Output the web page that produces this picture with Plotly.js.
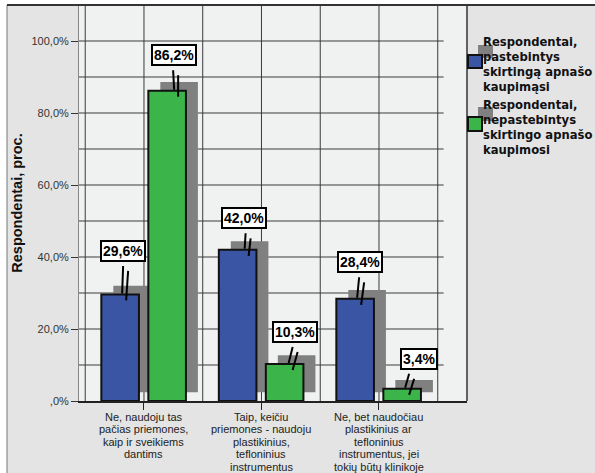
<!DOCTYPE html>
<html>
<head>
<meta charset="utf-8">
<script src="https://cdn.plot.ly/plotly-3.0.1.min.js"></script>
<style>html,body{margin:0;padding:0;background:#fff;}</style>
</head>
<body>
<div id="chart" style="width:595px;height:473px;"></div>
<script>
// ---- data ----
const categories = [
  "Ne, naudoju tas<br>pačias priemones,<br>kaip ir sveikiems<br>dantims",
  "Taip, keičiu<br>priemones - naudoju<br>plastikinius,<br>tefloninius<br>instrumentus",
  "Ne, bet naudočiau<br>plastikinius ar<br>tefloninius<br>instrumentus, jei<br>tokių būtų klinikoje"
];
const seriesNames = [
  "Respondentai,<br>pastebintys<br>skirtingą apnašo<br>kaupimąsi",
  "Respondentai,<br>nepastebintys<br>skirtingo apnašo<br>kaupimosi"
];
const noticedValues = [29.6, 42.0, 28.4];
const notNoticedValues = [86.2, 10.3, 3.4];
const yTickValues = [0, 20, 40, 60, 80, 100];
const yTickLabels = [",0%", "20,0%", "40,0%", "60,0%", "80,0%", "100,0%"];
const yAxisTitle = "Respondentai, proc.";

// ---- styling / layout constants ----
const colors = ["#3B55A5", "#3BB54A"];
const shadowColor = "#808080";
const barWidth = 0.32;
const barOffsets = [-0.363, 0.037];
const shadowDx = 0.102, shadowBase = 2.4;
const xRange = [-0.553, 2.749];
const yRange = [0, 110];
// label box offsets [dx, dy] in px relative to bar centre/top; leader top/bottom x
const labelPos = [
  [[2.5, 43.5, 3, 2], [6.5, 31.5, 8, 7], [5, 36.5, 4, 2]],
  [[7, 35.5, 6, 7], [10, 32, 8, 4], [16.5, 30, 7, 3]]
];
const ML = 79, MT = 5, PW = 388, PH = 396;
const BOTTOM = MT + PH; // 401

const idx = categories.map((_, i) => i);
const series = [noticedValues, notNoticedValues];

const traces = [];
series.forEach((vals, s) => {
  traces.push({
    type: "bar", x: idx, y: vals, base: vals.map(() => shadowBase),
    offset: barOffsets[s] + shadowDx, width: barWidth,
    marker: {color: shadowColor, line: {width: 0}},
    showlegend: false, hoverinfo: "skip"
  });
});
series.forEach((vals, s) => {
  traces.push({
    type: "bar", x: idx, y: vals, name: seriesNames[s],
    offset: barOffsets[s], width: barWidth,
    marker: {color: colors[s], line: {color: "#111", width: 2}},
    showlegend: false
  });
});

// pixel-anchored paper shape helper (px coords of the whole figure)
function P(px0, py0, px1, py1, extra) {
  return Object.assign({
    xref: "paper", yref: "paper", xsizemode: "pixel", ysizemode: "pixel",
    xanchor: 0, yanchor: 0,
    x0: px0 - ML, x1: px1 - ML, y0: BOTTOM - py0, y1: BOTTOM - py1
  }, extra);
}

const shapes = [];
// frame
shapes.push(P(0, 0, 7, 480, {type: "rect", fillcolor: "#fff", line: {width: 0}, layer: "below"}));
shapes.push(P(0, 0, 600, 5, {type: "rect", fillcolor: "#fff", line: {width: 0}, layer: "below"}));
shapes.push(P(7, 5, 7, 480, {type: "line", line: {color: "#777", width: 1}}));
// gridlines
for (let v = 10; v <= 100; v += 10) {
  shapes.push({type: "line", xref: "x", yref: "y", x0: xRange[0], x1: 2.55, y0: v, y1: v,
    line: {color: "#3a3a3a", width: 1}, layer: "below"});
}
for (let g = -0.5; g <= 2.5; g += 0.5) {
  shapes.push({type: "line", xref: "x", yref: "y", x0: g, x1: g, y0: 0, y1: yRange[1],
    line: {color: "#3a3a3a", width: 1}, layer: "below"});
}
// plot border top & right
shapes.push(P(7, 5, 600, 5, {type: "line", line: {color: "#333", width: 2}}));
shapes.push(P(467, 5, 467, 401, {type: "line", line: {color: "#333", width: 1.5}}));

const annotations = [];
// value labels + leader lines
series.forEach((vals, s) => {
  vals.forEach((v, i) => {
    const [dx, dy, lx, bx] = labelPos[s][i];
    const cx = i + barOffsets[s] + barWidth / 2;
    annotations.push({
      x: cx, y: v, xref: "x", yref: "y", xshift: dx, yshift: dy,
      text: v.toFixed(1).replace(".", ",") + "%", showarrow: false,
      font: {family: "Liberation Sans, Arial", size: 14, color: "#000", weight: "bold"},
      bgcolor: "#fff", bordercolor: "#000", borderwidth: 2, borderpad: 1
    });
    const base = {type: "line", xref: "x", yref: "y", xsizemode: "pixel", ysizemode: "pixel",
      xanchor: cx, yanchor: v, line: {color: "#000", width: 2}, layer: "above"};
    shapes.push(Object.assign({}, base, {x0: lx, y0: dy - 15, x1: bx, y1: 1}));
    shapes.push(Object.assign({}, base, {x0: lx + 5, y0: dy - 20, x1: bx + 4, y1: -6}));
  });
});

// category labels (one annotation per line)
categories.forEach((c, i) => {
  c.split("<br>").forEach((line, k) => {
    const yc = 417 + k * 12.4;
    annotations.push({
      x: i, y: 0, xref: "x", yref: "paper", yanchor: "middle", xanchor: "center",
      yshift: -(yc - BOTTOM), text: line, showarrow: false, borderpad: 0, borderwidth: 0,
      font: {family: "Liberation Sans, Arial", size: 11, color: "#222"}
    });
  });
});

// legend (manual)
const legendSym = [[468, 55, 482, 68], [468, 117, 482, 131]];
const legendTop = [41.5, 104.5];
series.forEach((_, s) => {
  const [a, b, c, d] = legendSym[s];
  shapes.push(P(a + 10, b - 10, c + 11, d - 10, {type: "rect", fillcolor: shadowColor, line: {width: 0}}));
  shapes.push(P(a, b, c, d, {type: "rect", fillcolor: colors[s], line: {color: "#111", width: 2}}));
  seriesNames[s].split("<br>").forEach((line, k) => {
    annotations.push({
      x: 0, y: 0, xref: "paper", yref: "paper", xanchor: "left", yanchor: "middle",
      xshift: 483 - ML, yshift: BOTTOM - (legendTop[s] + k * 15), text: line, showarrow: false,
      borderpad: 0, borderwidth: 0,
      font: {family: "DejaVu Sans", size: 11.6, color: "#111", weight: "bold"}
    });
  });
});

const layout = {
  width: 595, height: 473,
  margin: {l: ML, r: 595 - ML - PW, t: MT, b: 473 - BOTTOM, pad: 0},
  paper_bgcolor: "#E3E4E3", plot_bgcolor: "#F0F2F1",
  barmode: "overlay", showlegend: false,
  xaxis: {range: xRange, tickvals: idx, ticktext: idx.map(() => ""), ticks: "outside",
    ticklen: 7, tickcolor: "#222", tickwidth: 1, showgrid: false, zeroline: false,
    showline: true, linecolor: "#222", linewidth: 1.5, fixedrange: true},
  yaxis: {range: yRange, tickvals: yTickValues, ticktext: yTickLabels, ticks: "outside",
    ticklen: 7, tickcolor: "#333", tickwidth: 1, showgrid: false, zeroline: false,
    showline: true, linecolor: "#888", linewidth: 1, fixedrange: true,
    tickfont: {family: "Liberation Sans, Arial", size: 11, color: "#333"},
    title: {text: yAxisTitle, standoff: 5,
      font: {family: "Liberation Sans, Arial", size: 14.5, color: "#111", weight: "bold"}}},
  shapes: shapes, annotations: annotations
};

Plotly.newPlot("chart", traces, layout, {displayModeBar: false, staticPlot: true});
</script>
</body>
</html>
